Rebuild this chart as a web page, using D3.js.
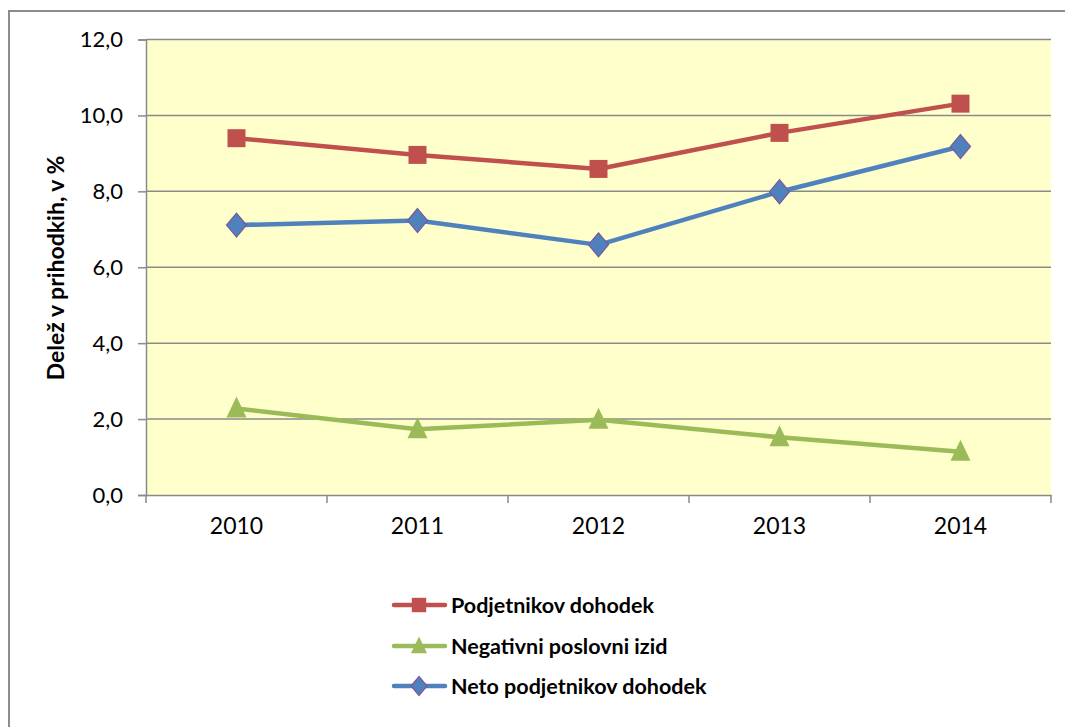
<!DOCTYPE html>
<html><head><meta charset="utf-8">
<script src="https://cdn.jsdelivr.net/npm/d3@7"></script>
<style>html,body{margin:0;padding:0;background:#fff;}svg{display:block;}</style>
</head><body>
<svg id="c" width="1065" height="727"></svg>
<script>
const years = ["2010","2011","2012","2013","2014"];
const podjetnikov = [9.40, 8.96, 8.59, 9.54, 10.31];
const negativni = [2.28, 1.73, 1.98, 1.52, 1.14];
const neto = [7.11, 7.23, 6.59, 7.99, 9.18];
const yTicks = [0,2,4,6,8,10,12];
const seriesNames = ["Podjetnikov dohodek","Negativni poslovni izid","Neto podjetnikov dohodek"];

const svg = d3.select("#c");
const font = "Lato, 'Open Sans', sans-serif";
const L=146, R=1051, T=39.5, B=495;

// outer chart border (extends beyond canvas right/bottom)
svg.append("rect").attr("x",9).attr("y",11).attr("width",1100).attr("height",760)
  .attr("fill","#fff").attr("stroke","#8c8c8c").attr("stroke-width",2);

const x = d3.scaleBand().domain(years).range([L,R]);
const y = d3.scaleLinear().domain([0,12]).range([B,T]);

svg.append("rect").attr("x",L).attr("y",T).attr("width",R-L).attr("height",B-T).attr("fill","#FFFFCC");

// gridlines
svg.append("g").selectAll("line").data(yTicks.filter(d=>d>0)).join("line")
  .attr("x1",L).attr("x2",R).attr("y1",d=>y(d)).attr("y2",d=>y(d))
  .attr("stroke","#8a8a8a").attr("stroke-width",1.5);

// y axis
const yAxis = d3.axisLeft(y).tickValues(yTicks).tickSize(8).tickPadding(15)
  .tickFormat(d=>d3.format(".1f")(d).replace(".",","));
const gy = svg.append("g").attr("transform",`translate(${L},0)`).call(yAxis);
gy.select(".domain").attr("stroke","#8a8a8a").attr("stroke-width",1.5);
gy.selectAll(".tick line").attr("stroke","#8a8a8a").attr("stroke-width",1.5);
gy.selectAll("text").attr("font-family",font).attr("font-size",22).attr("fill","#000");

// x axis
const xAxis = d3.axisBottom(x).tickSize(0).tickPadding(23);
const gx = svg.append("g").attr("transform",`translate(0,${B})`).call(xAxis);
gx.select(".domain").attr("stroke","#8a8a8a").attr("stroke-width",1.5);
gx.selectAll("text").attr("font-family",font).attr("font-size",23).attr("fill","#000");
const bounds = years.map(d=>x(d)).concat([R]);
gx.append("g").selectAll("line").data(bounds).join("line")
  .attr("x1",d=>d).attr("x2",d=>d).attr("y1",0).attr("y2",8)
  .attr("stroke","#8a8a8a").attr("stroke-width",1.5);

// y title
svg.append("text").attr("transform","translate(64,268) rotate(-90)")
  .attr("text-anchor","middle").attr("font-family",font).attr("font-weight","bold")
  .attr("font-size",23).text("Delež v prihodkih, v %");

const cx = d => x(d)+x.bandwidth()/2;
const series = [
  {name:seriesNames[0], vals:podjetnikov, color:"#C0504D", marker:"square"},
  {name:seriesNames[1], vals:negativni, color:"#9BBB59", marker:"triangle"},
  {name:seriesNames[2], vals:neto, color:"#4F81BD", marker:"diamond"}
];
function drawMarker(g, type, px, py, color, scale){
  scale = scale||1;
  if(type==="square"){
    const s=18*scale;
    g.append("rect").attr("x",px-s/2).attr("y",py-s/2).attr("width",s).attr("height",s).attr("fill",color);
  } else if(type==="triangle"){
    const w=20*scale,h=20*scale;
    g.append("path").attr("d",`M${px},${py-h*0.6}L${px+w/2},${py+h*0.45}L${px-w/2},${py+h*0.45}Z`).attr("fill",color);
  } else {
    const w=10*scale,h=12*scale;
    g.append("path").attr("d",`M${px},${py-h}L${px+w},${py}L${px},${py+h}L${px-w},${py}Z`)
      .attr("fill",color).attr("stroke","#7E569A").attr("stroke-width",1.2);
  }
}
series.forEach(s=>{
  const line = d3.line().x((d,i)=>cx(years[i])).y(d=>y(d));
  svg.append("path").attr("d",line(s.vals)).attr("fill","none").attr("stroke",s.color)
    .attr("stroke-width",4.5).attr("stroke-linejoin","round");
  const g = svg.append("g");
  s.vals.forEach((v,i)=>drawMarker(g,s.marker,cx(years[i]),y(v),s.color));
});

// legend
const legY=[605,646,686];
series.forEach((s,i)=>{
  const g=svg.append("g");
  g.append("line").attr("x1",394).attr("x2",445).attr("y1",legY[i]).attr("y2",legY[i])
    .attr("stroke",s.color).attr("stroke-width",4.5).attr("stroke-linecap","round");
  drawMarker(g,s.marker,419,legY[i],s.color,0.8);
  g.append("text").attr("x",451).attr("y",legY[i]).attr("dy","0.35em")
    .attr("font-family",font).attr("font-weight","bold").attr("font-size",21.5).text(s.name);
});
</script>
</body></html>
